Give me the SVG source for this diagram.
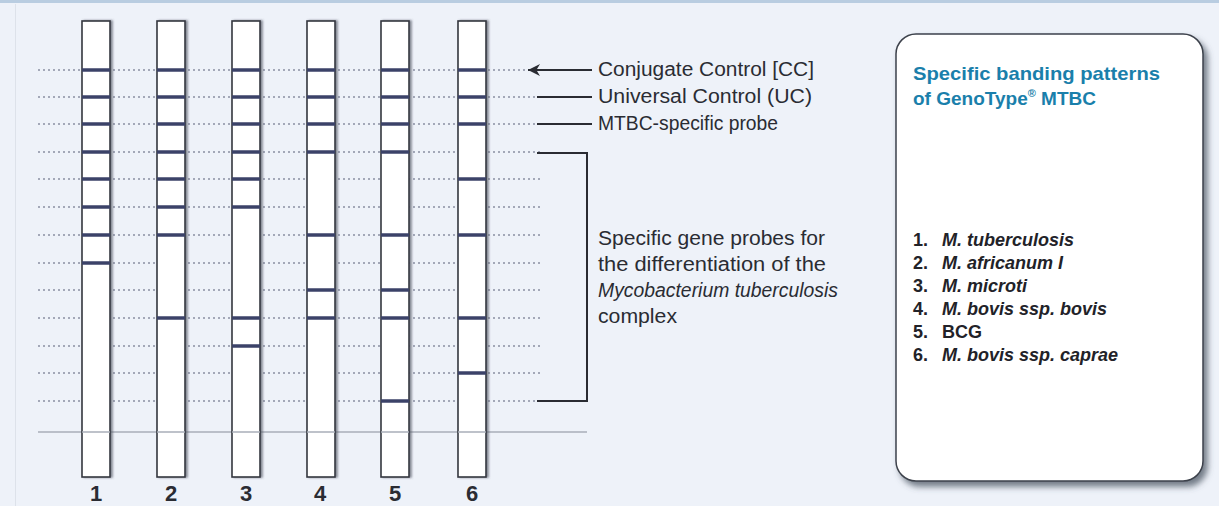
<svg xmlns="http://www.w3.org/2000/svg" width="1219" height="506" viewBox="0 0 1219 506">
  <defs>
    <style>
      .dot { stroke: #8a90a2; stroke-width: 1.5; stroke-dasharray: 2 3; fill: none; }
      .strip { fill: #ffffff; stroke: #34363f; stroke-width: 1.6; }
      .band { stroke: #3b4268; stroke-width: 3.5; }
      .lead { stroke: #2a2c33; stroke-width: 2; fill: none; }
      .lbl { font-family: "Liberation Sans", Arial, sans-serif; font-size: 20px; fill: #2a2c33; }
      .num { font-family: "Liberation Sans", Arial, sans-serif; font-size: 22px; font-weight: bold; fill: #2a2c33; text-anchor: middle; }
      .title { font-family: "Liberation Sans", Arial, sans-serif; font-size: 19px; font-weight: bold; fill: #1a7fab; }
      .item { font-family: "Liberation Sans", Arial, sans-serif; font-size: 18px; font-weight: bold; fill: #222228; }
      .it { font-style: italic; }
    </style>
    <filter id="stripShadow" x="-30%" y="-5%" width="160%" height="110%">
      <feDropShadow dx="2" dy="0" stdDeviation="1" flood-color="#555a66" flood-opacity="0.7"/>
    </filter>
    <filter id="boxShadow" x="-10%" y="-10%" width="125%" height="125%">
      <feDropShadow dx="4" dy="5" stdDeviation="3" flood-color="#4c5562" flood-opacity="0.75"/>
    </filter>
    <marker id="arrowHead" viewBox="0 0 10 10" refX="0" refY="5" markerWidth="6" markerHeight="6" orient="auto">
      <path d="M0,5 L10,0 L7,5 L10,10 Z" fill="#2a2c33"/>
    </marker>
  </defs>

  <!-- page background -->
  <rect x="0" y="0" width="1219" height="506" fill="#eef2f9"/>
  <rect x="0" y="0" width="1219" height="3" fill="#b9cde1"/>
  <line x1="15.5" y1="4" x2="15.5" y2="506" stroke="#dde2ea" stroke-width="1"/>

  <!-- dotted probe positions -->
  <g id="guides">
    <line class="dot" x1="38" y1="70" x2="540" y2="70"/>
    <line class="dot" x1="38" y1="97" x2="540" y2="97"/>
    <line class="dot" x1="38" y1="124" x2="540" y2="124"/>
    <line class="dot" x1="38" y1="152" x2="540" y2="152"/>
    <line class="dot" x1="38" y1="179" x2="540" y2="179"/>
    <line class="dot" x1="38" y1="207" x2="540" y2="207"/>
    <line class="dot" x1="38" y1="235" x2="540" y2="235"/>
    <line class="dot" x1="38" y1="263" x2="540" y2="263"/>
    <line class="dot" x1="38" y1="290" x2="540" y2="290"/>
    <line class="dot" x1="38" y1="318" x2="540" y2="318"/>
    <line class="dot" x1="38" y1="346" x2="540" y2="346"/>
    <line class="dot" x1="38" y1="373" x2="540" y2="373"/>
    <line class="dot" x1="38" y1="401" x2="540" y2="401"/>
    <line x1="38" y1="432" x2="587" y2="432" stroke="#a9aeb8" stroke-width="1.5"/>
  </g>

  <!-- strip 1 -->
  <g id="strip1">
    <rect class="strip" x="82" y="21" width="28" height="456" filter="url(#stripShadow)"/>
    <line x1="82" y1="432" x2="110" y2="432" stroke="#a9aeb8" stroke-width="1.5"/>
    <line class="band" x1="82" y1="70" x2="110" y2="70"/>
    <line class="band" x1="82" y1="97" x2="110" y2="97"/>
    <line class="band" x1="82" y1="124" x2="110" y2="124"/>
    <line class="band" x1="82" y1="152" x2="110" y2="152"/>
    <line class="band" x1="82" y1="179" x2="110" y2="179"/>
    <line class="band" x1="82" y1="207" x2="110" y2="207"/>
    <line class="band" x1="82" y1="235" x2="110" y2="235"/>
    <line class="band" x1="82" y1="263" x2="110" y2="263"/>
    <text class="num" x="96" y="501">1</text>
  </g>

  <!-- strip 2 -->
  <g id="strip2">
    <rect class="strip" x="157" y="21" width="28" height="456" filter="url(#stripShadow)"/>
    <line x1="157" y1="432" x2="185" y2="432" stroke="#a9aeb8" stroke-width="1.5"/>
    <line class="band" x1="157" y1="70" x2="185" y2="70"/>
    <line class="band" x1="157" y1="97" x2="185" y2="97"/>
    <line class="band" x1="157" y1="124" x2="185" y2="124"/>
    <line class="band" x1="157" y1="152" x2="185" y2="152"/>
    <line class="band" x1="157" y1="179" x2="185" y2="179"/>
    <line class="band" x1="157" y1="207" x2="185" y2="207"/>
    <line class="band" x1="157" y1="235" x2="185" y2="235"/>
    <line class="band" x1="157" y1="318" x2="185" y2="318"/>
    <text class="num" x="171" y="501">2</text>
  </g>

  <!-- strip 3 -->
  <g id="strip3">
    <rect class="strip" x="232" y="21" width="28" height="456" filter="url(#stripShadow)"/>
    <line x1="232" y1="432" x2="260" y2="432" stroke="#a9aeb8" stroke-width="1.5"/>
    <line class="band" x1="232" y1="70" x2="260" y2="70"/>
    <line class="band" x1="232" y1="97" x2="260" y2="97"/>
    <line class="band" x1="232" y1="124" x2="260" y2="124"/>
    <line class="band" x1="232" y1="152" x2="260" y2="152"/>
    <line class="band" x1="232" y1="179" x2="260" y2="179"/>
    <line class="band" x1="232" y1="207" x2="260" y2="207"/>
    <line class="band" x1="232" y1="318" x2="260" y2="318"/>
    <line class="band" x1="232" y1="346" x2="260" y2="346"/>
    <text class="num" x="246" y="501">3</text>
  </g>

  <!-- strip 4 -->
  <g id="strip4">
    <rect class="strip" x="307" y="21" width="28" height="456" filter="url(#stripShadow)"/>
    <line x1="307" y1="432" x2="335" y2="432" stroke="#a9aeb8" stroke-width="1.5"/>
    <line class="band" x1="307" y1="70" x2="335" y2="70"/>
    <line class="band" x1="307" y1="97" x2="335" y2="97"/>
    <line class="band" x1="307" y1="124" x2="335" y2="124"/>
    <line class="band" x1="307" y1="152" x2="335" y2="152"/>
    <line class="band" x1="307" y1="235" x2="335" y2="235"/>
    <line class="band" x1="307" y1="290" x2="335" y2="290"/>
    <line class="band" x1="307" y1="318" x2="335" y2="318"/>
    <text class="num" x="320" y="501">4</text>
  </g>

  <!-- strip 5 -->
  <g id="strip5">
    <rect class="strip" x="381" y="21" width="28" height="456" filter="url(#stripShadow)"/>
    <line x1="381" y1="432" x2="409" y2="432" stroke="#a9aeb8" stroke-width="1.5"/>
    <line class="band" x1="381" y1="70" x2="409" y2="70"/>
    <line class="band" x1="381" y1="97" x2="409" y2="97"/>
    <line class="band" x1="381" y1="124" x2="409" y2="124"/>
    <line class="band" x1="381" y1="152" x2="409" y2="152"/>
    <line class="band" x1="381" y1="235" x2="409" y2="235"/>
    <line class="band" x1="381" y1="290" x2="409" y2="290"/>
    <line class="band" x1="381" y1="318" x2="409" y2="318"/>
    <line class="band" x1="381" y1="401" x2="409" y2="401"/>
    <text class="num" x="395" y="501">5</text>
  </g>

  <!-- strip 6 -->
  <g id="strip6">
    <rect class="strip" x="458" y="21" width="28" height="456" filter="url(#stripShadow)"/>
    <line x1="458" y1="432" x2="486" y2="432" stroke="#a9aeb8" stroke-width="1.5"/>
    <line class="band" x1="458" y1="70" x2="486" y2="70"/>
    <line class="band" x1="458" y1="97" x2="486" y2="97"/>
    <line class="band" x1="458" y1="124" x2="486" y2="124"/>
    <line class="band" x1="458" y1="179" x2="486" y2="179"/>
    <line class="band" x1="458" y1="235" x2="486" y2="235"/>
    <line class="band" x1="458" y1="318" x2="486" y2="318"/>
    <line class="band" x1="458" y1="373" x2="486" y2="373"/>
    <text class="num" x="472" y="501">6</text>
  </g>

  <!-- leader lines and bracket -->
  <g id="connectors">
    <line class="lead" x1="528" y1="70" x2="592" y2="70" marker-start="url(#arrowHead)"/>
    <line class="lead" x1="537" y1="97" x2="592" y2="97"/>
    <line class="lead" x1="537" y1="124" x2="592" y2="124"/>
    <polyline class="lead" points="537,153 587,153 587,401 537,401"/>
  </g>

  <!-- labels -->
  <g id="labels">
    <text class="lbl" x="598" y="76" textLength="216" lengthAdjust="spacingAndGlyphs">Conjugate Control [CC]</text>
    <text class="lbl" x="598" y="103" textLength="214" lengthAdjust="spacingAndGlyphs">Universal Control (UC)</text>
    <text class="lbl" x="598" y="130" textLength="180" lengthAdjust="spacingAndGlyphs">MTBC-specific probe</text>
    <text class="lbl" x="598" y="245" textLength="227" lengthAdjust="spacingAndGlyphs">Specific gene probes for</text>
    <text class="lbl" x="598" y="271" textLength="228" lengthAdjust="spacingAndGlyphs">the differentiation of the</text>
    <text class="lbl it" x="598" y="297" textLength="240" lengthAdjust="spacingAndGlyphs">Mycobacterium tuberculosis</text>
    <text class="lbl" x="598" y="323" textLength="79" lengthAdjust="spacingAndGlyphs">complex</text>
  </g>

  <!-- legend box -->
  <g id="legend">
    <rect x="896" y="34" width="307" height="447" rx="20" ry="20" fill="#ffffff" stroke="#3d424c" stroke-width="1.5" filter="url(#boxShadow)"/>
    <text class="title" x="913" y="80" textLength="247" lengthAdjust="spacingAndGlyphs">Specific banding patterns</text>
    <text class="title" x="913" y="105">of GenoType<tspan font-size="11" dy="-8">®</tspan><tspan dy="8"> MTBC</tspan></text>
    <text class="item" x="913" y="246">1.</text>
    <text class="item it" x="942" y="246">M. tuberculosis</text>
    <text class="item" x="913" y="269">2.</text>
    <text class="item it" x="942" y="269">M. africanum I</text>
    <text class="item" x="913" y="292">3.</text>
    <text class="item it" x="942" y="292">M. microti</text>
    <text class="item" x="913" y="315">4.</text>
    <text class="item it" x="942" y="315">M. bovis ssp. bovis</text>
    <text class="item" x="913" y="338">5.</text>
    <text class="item" x="942" y="338">BCG</text>
    <text class="item" x="913" y="361">6.</text>
    <text class="item it" x="942" y="361">M. bovis ssp. caprae</text>
  </g>
</svg>
